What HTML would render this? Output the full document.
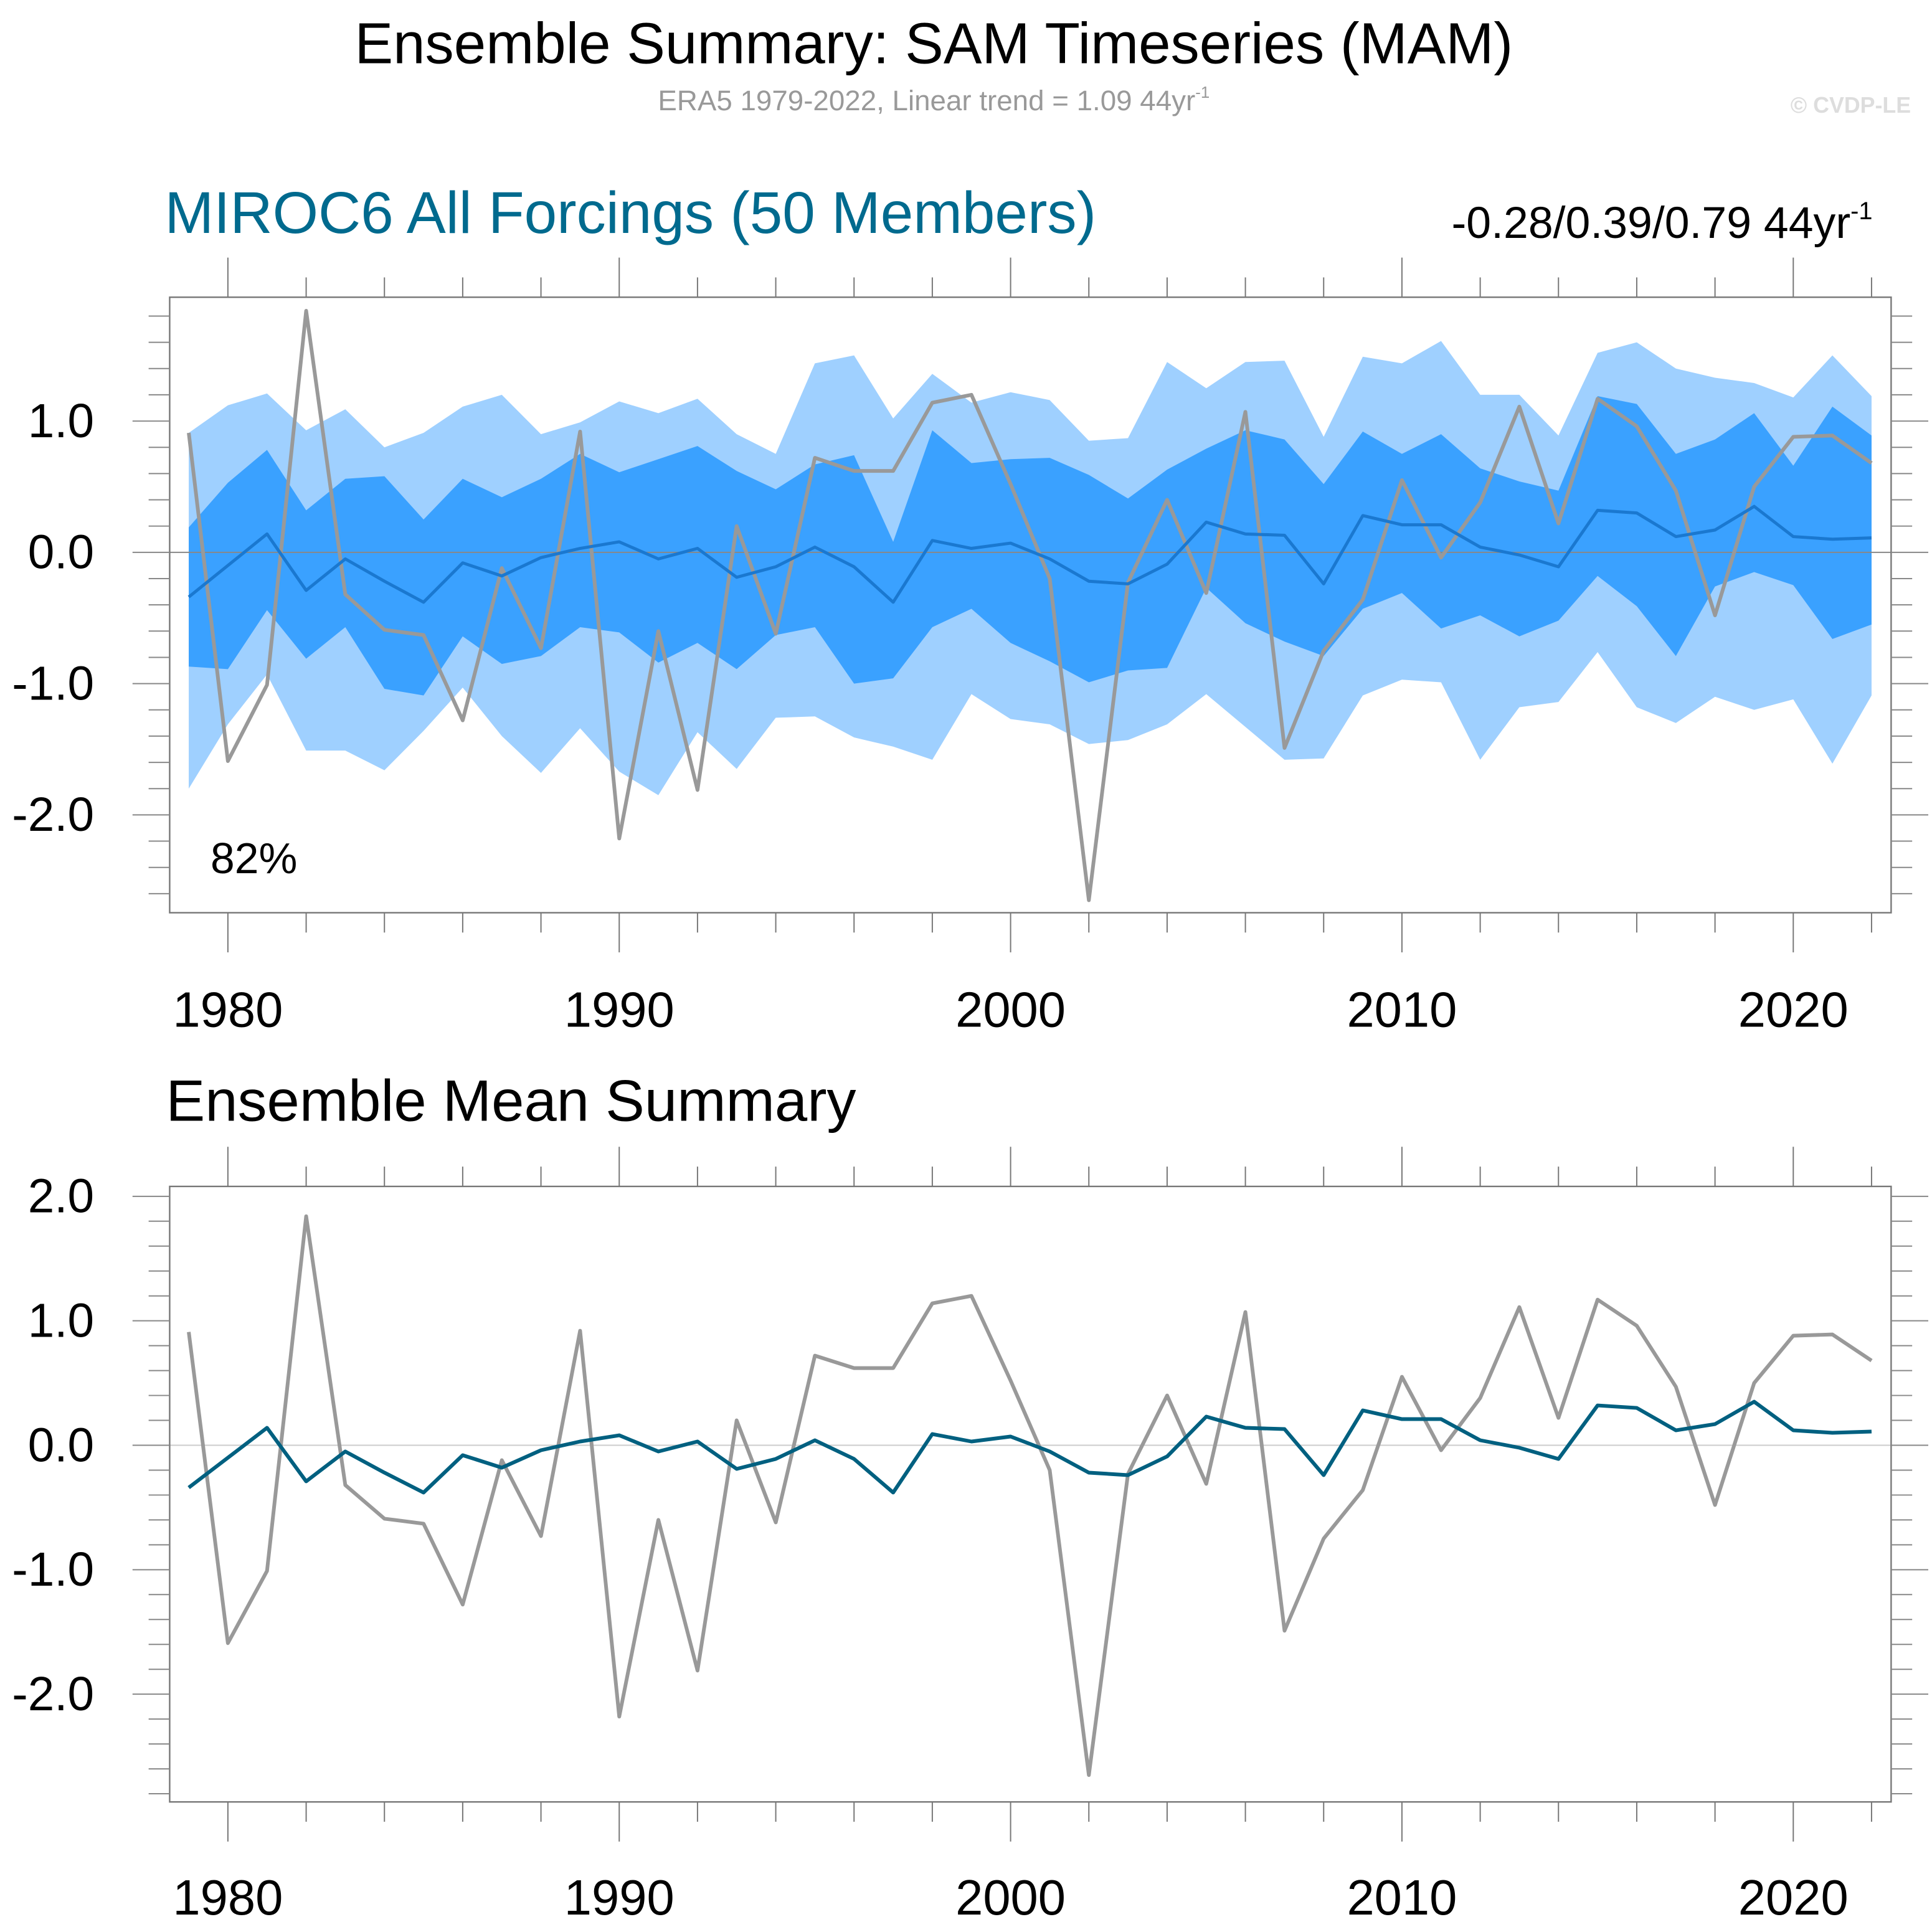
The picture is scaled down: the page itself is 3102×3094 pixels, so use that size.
<!DOCTYPE html>
<html><head><meta charset="utf-8"><style>
html,body{margin:0;padding:0;background:#fff;}
svg{display:block;font-family:"Liberation Sans",Arial,sans-serif;}
</style></head><body>
<svg id="chart" width="3102" height="3094" viewBox="0 0 1560 1556" xmlns="http://www.w3.org/2000/svg">
<text x="754" y="51" font-size="46.5" text-anchor="middle" fill="#000">Ensemble Summary: SAM Timeseries (MAM)</text>
<text x="754" y="89" font-size="23" text-anchor="middle" fill="#999">ERA5 1979-2022, Linear trend = 1.09 44yr<tspan font-size="13" dy="-10">-1</tspan></text>
<text x="1543" y="91" font-size="18" font-weight="bold" text-anchor="end" fill="#ddd">© CVDP-LE</text>
<text x="133" y="188" font-size="47.5" fill="#006a8e">MIROC6 All Forcings (50 Members)</text>
<text x="1512" y="192" font-size="36" text-anchor="end" fill="#000">-0.28/0.39/0.79 44yr<tspan font-size="20" dy="-15">-1</tspan></text>
<text x="134" y="905" font-size="47.3" fill="#000">Ensemble Mean Summary</text>
<g id="p1"></g><g id="p2"></g>
</svg>
<script>
const years=[];for(let y=1979;y<=2022;y++)years.push(y);
const era5=[0.91,-1.59,-1.01,1.84,-0.32,-0.59,-0.63,-1.28,-0.12,-0.73,0.92,-2.18,-0.60,-1.81,0.20,-0.62,0.72,0.62,0.62,1.14,1.20,0.52,-0.20,-2.65,-0.23,0.40,-0.31,1.07,-1.49,-0.75,-0.36,0.55,-0.04,0.38,1.11,0.22,1.17,0.96,0.47,-0.48,0.50,0.88,0.89,0.68];
const ensMean=[-0.34,-0.10,0.14,-0.29,-0.05,-0.22,-0.38,-0.08,-0.18,-0.04,0.03,0.08,-0.05,0.03,-0.19,-0.11,0.04,-0.11,-0.38,0.09,0.03,0.07,-0.05,-0.22,-0.24,-0.09,0.23,0.14,0.13,-0.24,0.28,0.21,0.21,0.04,-0.02,-0.11,0.32,0.30,0.12,0.17,0.35,0.12,0.10,0.11];
const outerHi=[0.91,1.12,1.21,0.93,1.09,0.80,0.91,1.11,1.20,0.90,0.99,1.15,1.06,1.17,0.90,0.75,1.44,1.50,1.02,1.36,1.14,1.22,1.16,0.85,0.87,1.45,1.25,1.45,1.46,0.88,1.49,1.44,1.61,1.20,1.20,0.89,1.52,1.60,1.40,1.33,1.29,1.18,1.50,1.19];
const outerLo=[-1.80,-1.31,-0.93,-1.51,-1.51,-1.66,-1.36,-1.03,-1.40,-1.68,-1.34,-1.67,-1.85,-1.37,-1.65,-1.26,-1.25,-1.41,-1.48,-1.58,-1.08,-1.27,-1.31,-1.46,-1.43,-1.31,-1.08,-1.33,-1.58,-1.57,-1.09,-0.97,-0.99,-1.58,-1.18,-1.14,-0.76,-1.18,-1.30,-1.10,-1.20,-1.12,-1.61,-1.09];
const innerHi=[0.19,0.53,0.78,0.32,0.56,0.58,0.25,0.56,0.42,0.56,0.75,0.61,0.71,0.81,0.62,0.48,0.67,0.74,0.08,0.93,0.68,0.71,0.72,0.59,0.41,0.63,0.79,0.93,0.86,0.52,0.92,0.75,0.90,0.64,0.54,0.47,1.19,1.13,0.75,0.86,1.06,0.66,1.11,0.89];
const innerLo=[-0.87,-0.89,-0.44,-0.81,-0.57,-1.04,-1.09,-0.64,-0.85,-0.79,-0.57,-0.61,-0.84,-0.69,-0.89,-0.63,-0.57,-1.00,-0.96,-0.57,-0.43,-0.69,-0.83,-0.99,-0.90,-0.88,-0.27,-0.54,-0.68,-0.79,-0.43,-0.31,-0.58,-0.48,-0.64,-0.52,-0.18,-0.41,-0.79,-0.26,-0.15,-0.25,-0.66,-0.55];
const xLabels=[1980,1990,2000,2010,2020];
const yLabels1=[1.0,0.0,-1.0,-2.0];
const yLabels2=[2.0,1.0,0.0,-1.0,-2.0];
const NS="http://www.w3.org/2000/svg";
function mk(parent,tag,attrs){const e=document.createElementNS(NS,tag);for(const k in attrs)e.setAttribute(k,attrs[k]);parent.appendChild(e);return e;}
const X=y=>184+(y-1980)*31.6;
function panel(g,top,bot,yZeroPx,unitPx,vmin,vmax,yLabels,labelY,first){
  const Y=v=>yZeroPx-v*unitPx;
  const L=137,R=1527;
  if(first){
    const o=mk(g,'polygon',{points:years.map((y,i)=>X(y)+','+Y(outerHi[i])).concat(years.map((y,i)=>X(y)+','+Y(outerLo[i])).reverse()).join(' '),fill:'#9fd0ff'});
    
    const n=mk(g,'polygon',{points:years.map((y,i)=>X(y)+','+Y(innerHi[i])).concat(years.map((y,i)=>X(y)+','+Y(innerLo[i])).reverse()).join(' '),fill:'#3aa1ff'});
    
  }
  const z=mk(g,'line',{x1:L,x2:R,y1:Y(0),y2:Y(0),stroke:first?'#888':'#ccc','stroke-width':1});
  
  const b=mk(g,'rect',{x:L,y:top,width:R-L,height:bot-top,fill:'none',stroke:'#777','stroke-width':1.2});
  
  for(let y=1980;y<=2022;y+=2){
    const maj=(y%10===0),len=maj?32:16;
    mk(g,'line',{x1:X(y),x2:X(y),y1:top,y2:top-len,stroke:'#777','stroke-width':1});
    mk(g,'line',{x1:X(y),x2:X(y),y1:bot,y2:bot+len,stroke:'#777','stroke-width':1});
  }
  for(let k=Math.ceil(vmin*5);k<=Math.floor(vmax*5);k++){
    const v=k/5,maj=(k%5===0),len=maj?30:17;
    mk(g,'line',{x1:L,x2:L-len,y1:Y(v),y2:Y(v),stroke:'#888','stroke-width':1});
    mk(g,'line',{x1:R,x2:R+len,y1:Y(v),y2:Y(v),stroke:'#888','stroke-width':1});
  }
  yLabels.forEach(v=>{const t=mk(g,'text',{x:76,y:Y(v)+13,'font-size':38.5,'text-anchor':'end'});t.textContent=v.toFixed(1);
    });
  xLabels.forEach(v=>{const t=mk(g,'text',{x:X(v),y:labelY,'font-size':40,'text-anchor':'middle'});t.textContent=v;
    });
  const e=mk(g,'polyline',{points:years.map((y,i)=>X(y)+','+Y(era5[i])).join(' '),fill:'none',stroke:'#999','stroke-width':3,'stroke-linejoin':'round'});
  
  const m=mk(g,'polyline',{points:years.map((y,i)=>X(y)+','+Y(ensMean[i])).join(' '),fill:'none',stroke:first?'#1a78d0':'#006080','stroke-width':first?2.5:3,'stroke-linejoin':'round'});
  
}
panel(document.getElementById('p1'),240,737,446,106,-2.75,1.94,yLabels1,829,true);
panel(document.getElementById('p2'),958,1455,1167,100.5,-2.87,2.08,yLabels2,1546,false);
const pc=mk(document.getElementById('p1'),'text',{x:170,y:705,'font-size':35});pc.textContent='82%';


</script>
</body></html>
